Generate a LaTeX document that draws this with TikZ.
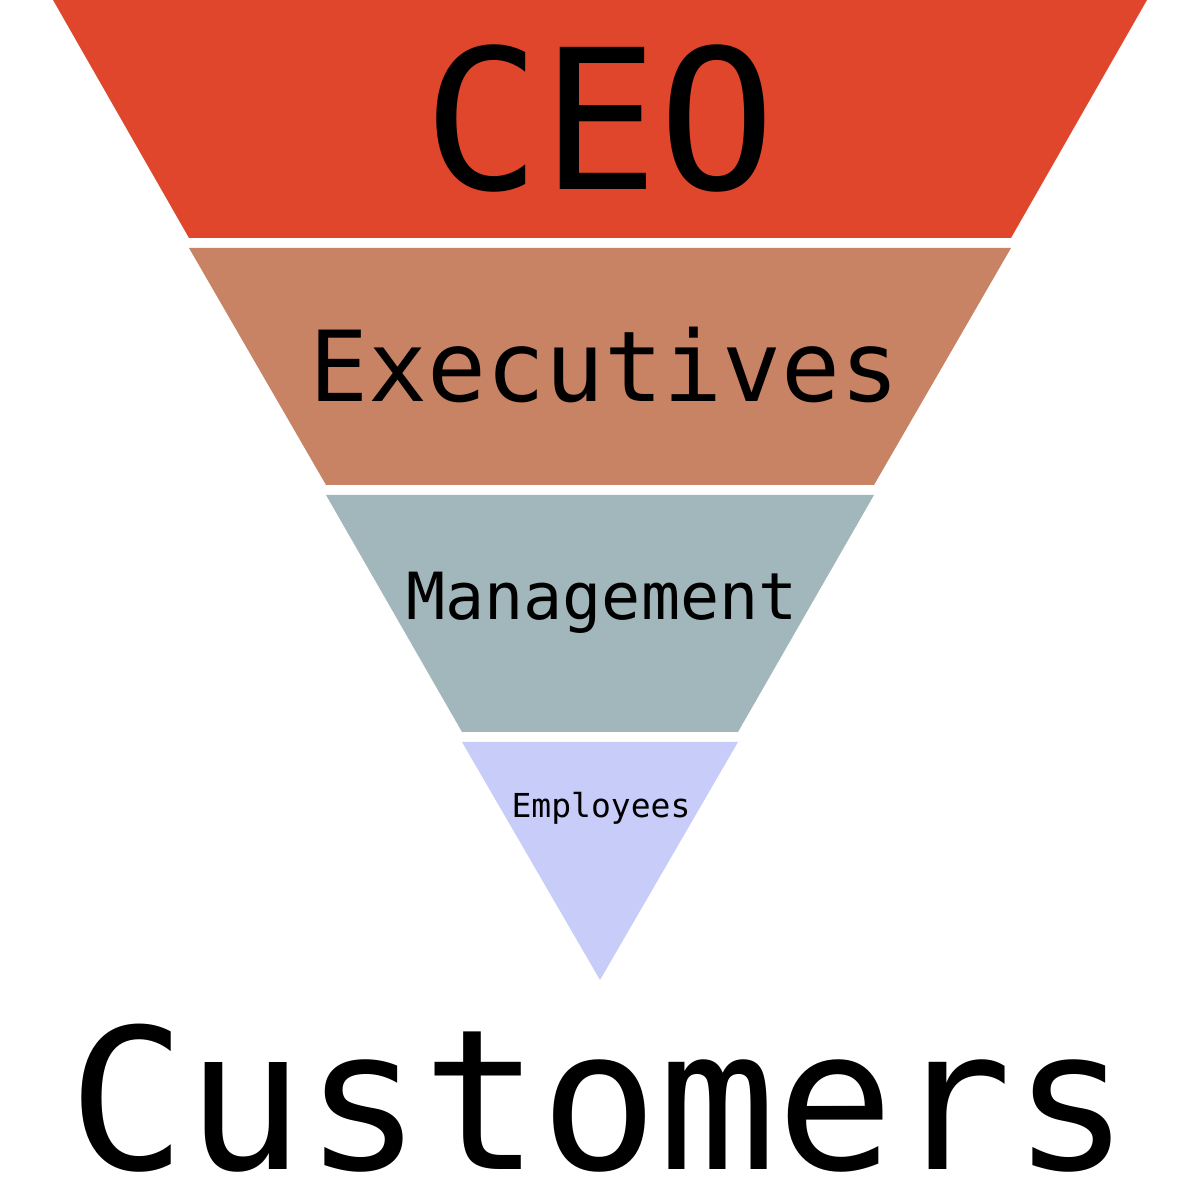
\documentclass[tikz,border=0pt]{standalone}
\usepackage{fontspec}
\setmonofont{DejaVu Sans Mono}
\usepackage{tikz}
\definecolor{ceoc}{RGB}{223,70,44}
\definecolor{execc}{RGB}{200,130,100}
\definecolor{mgmtc}{RGB}{162,183,188}
\definecolor{empc}{RGB}{199,205,248}
\newcommand{\lvlfont}[1]{\fontsize{#1}{#1}\selectfont\ttfamily}

\begin{document}
\begin{tikzpicture}[x=1pt,y=1pt,lvltext/.style={anchor=base,inner sep=0pt}]
\useasboundingbox (0,0) rectangle (1200,1200);
% bands of the upside-down pyramid: top y, bottom y, half widths, colour
\foreach \yt/\yb/\wt/\wb/\col in {1200/962/547/411/ceoc, 952/715/411/274/execc, 705/468/274/138/mgmtc, 458/220/138/0/empc}{
  \fill[\col] (600-\wt,\yt) -- (600+\wt,\yt) -- (600+\wb,\yb) -- (600-\wb,\yb) -- cycle;
}
% level labels
\node[lvltext,font=\lvlfont{195}] (ceo) at (600,1010) {CEO};
\node[lvltext,font=\lvlfont{98}] (exec) at (605,798) {Executives};
\node[lvltext,font=\lvlfont{65}] (mgmt) at (602,580) {Management};
\node[lvltext,font=\lvlfont{33}] (emp) at (601,382) {Employees};
% the base that carries it all
\node[lvltext,text depth=0pt,font=\lvlfont{196}] (cust) at (600,30) {Customers};
\end{tikzpicture}
\end{document}
